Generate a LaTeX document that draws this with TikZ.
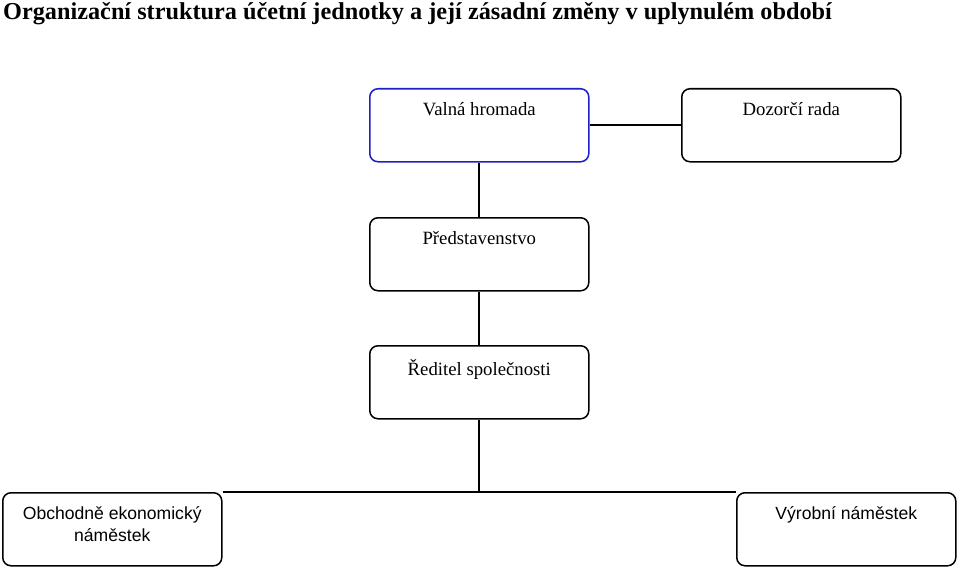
\documentclass[tikz,border=0pt]{standalone}
\usepackage{fontspec}
\setmainfont{Liberation Serif}
\setsansfont{Liberation Sans}
\usetikzlibrary{positioning}
\begin{document}
\begin{tikzpicture}
[x=0.03cm,y=-0.03cm,
 unit/.style={shape=rectangle,draw,line width=1.3pt,rounded corners=7pt,
   minimum width=6.57cm,minimum height=2.19cm,anchor=north west},
 caption/.style={font=\fontsize{16pt}{19pt}\selectfont,align=center,inner sep=0pt},
 sanscaption/.style={caption,font=\fontsize{15pt}{19pt}\selectfont\sffamily},
 link/.style={line width=1.5pt}]

\useasboundingbox (0,0) rectangle (960,568);

\node (title) [anchor=north west,inner sep=0pt,font=\fontsize{20.7pt}{24pt}\selectfont\bfseries]
	at (3,2) {Organizační struktura účetní jednotky a její zásadní změny v uplynulém období};

\node (vh) [unit,draw={rgb,255:red,30;green,30;blue,200}] at (369,88) {};
\node (dr) [unit] at (681,88) {};
\node (pr) [unit] at (369,217) {};
\node (rs) [unit] at (369,345) {};
\node (oe) [unit] at (2,492) {};
\node (vn) [unit] at (736,492) {};

\node [caption,anchor=north] at ([yshift=-0.42cm]vh.north) {Valná hromada};
\node [caption,anchor=north] at ([yshift=-0.42cm]dr.north) {Dozorčí rada};
\node [caption,anchor=north] at ([yshift=-0.42cm]pr.north) {Představenstvo};
\node [caption,anchor=north] at ([yshift=-0.42cm]rs.north) {Ředitel společnosti};
\node [sanscaption,anchor=north] at ([yshift=-0.42cm]oe.north) {Obchodně ekonomický\\náměstek};
\node [sanscaption,anchor=north] at ([yshift=-0.42cm]vn.north) {Výrobní náměstek};

\draw [link] (vh.east) -- (vh.east -| dr.west);
\draw [link] (vh.south) -- (pr.north);
\draw [link] (pr.south) -- (rs.north);
\draw [link] (rs.south) -- (rs.south |- oe.north);
\draw [link] (oe.north east) -- (vn.north west);

\end{tikzpicture}
\end{document}
